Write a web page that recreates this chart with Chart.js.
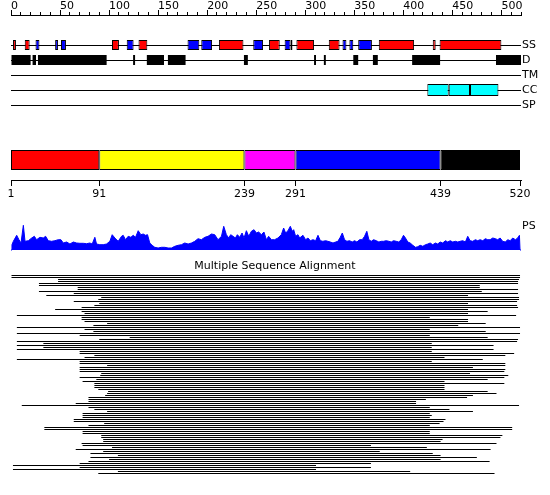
<!DOCTYPE html>
<html>
<head>
<meta charset="utf-8">
<script src="https://cdn.jsdelivr.net/npm/chart.js"></script>
<style>
html,body{margin:0;padding:0;background:#ffffff;}
canvas{display:block;}
</style>
</head>
<body>
<canvas id="c" width="550" height="495" style="width:550px;height:495px"></canvas>
<script>
// ---------------- DATA ----------------
const seqLength = 520;
const topTickStep = 10;
const topLabelStep = 50;

const trackNames = ['SS', 'D', 'TM', 'CC', 'SP'];
const profileName = 'PS';
const msaTitle = 'Multiple Sequence Alignment';

// secondary structure: helices (red) and strands (blue), residue ranges
const helixRanges = [[2,5],[14,19],[103,110],[130,139],[212,237],[263,274],[285,287],[291,309],[324,335],[375,411],[430,433],[437,500]];
const strandRanges = [[25,29],[45,48],[51,56],[118,125],[180,192],[194,205],[247,257],[279,285],[338,342],[345,349],[354,368]];
// disorder
const disorderRanges = [[0,20],[22,25.5],[27.5,97.5],[124.5,126.5],[138.5,156],[160,178],[237.5,241.5],[309,311],[319,321],[349,354],[369,374],[409,437.5],[494.5,520]];
// coiled coil
const coiledCoilRanges = [[424.5,446.3],[446.3,468],[468,497]];
// domain boundaries (also the tick labels of the domain ruler)
const domainBounds = [1, 91, 239, 291, 439, 520];

// PS profile
const psPos = [0,1,2.4,5.8,8.1,10.2,12.6,14.3,17.7,21.1,23.8,26.1,29.5,32.9,35.3,38,41.4,44.8,48.2,50.9,53.3,56.7,60.1,63.5,66.9,70.3,73.7,77.1,80.4,82.8,85.5,87.2,90.6,94,97.4,100.8,103.2,105.9,109.3,112.7,114.4,116.8,119.5,122.2,124.6,127,129.7,132.4,134.8,137.1,139.2,141.5,143.9,146.6,150,153.4,156.8,160.2,163.6,167,170.4,173.8,177.2,180.6,184,187.4,190.7,194.1,197.6,200.9,204.4,207.7,211.1,214.6,216.9,219.6,222,224,226.4,228.8,230.8,233.2,235.6,237.6,240,242.4,245.1,247.8,250.2,252.5,255.3,257.9,260.4,262.7,265.5,268.8,272.2,275.6,278,280,282.4,284.8,286.8,288.2,290.2,292.6,294.3,297.7,300.4,302.8,305.2,307.9,310.6,313,315.4,318,320.8,323.1,325.6,328.3,331,333.3,335.7,337.8,340.1,342.5,345.2,347.9,350.3,352.7,355.4,358.1,360.5,362.8,364.9,367.3,369.7,372.4,375.1,377.5,379.8,382.6,385.3,387.7,390,392.8,395.4,397.9,400.2,402.2,404.6,407,409.7,412.4,414.8,417.2,419.9,422.6,425,427.4,430,432.8,435.1,437.6,440.2,443,445.3,447.8,450.4,453.2,455.5,457.9,460.6,463.3,465.7,468.1,470.8,473.5,475.9,478.3,481,483.7,486.1,488.5,491.2,493.9,496.2,498.7,501.3,504.1,506.4,508.9,511.6,514.3,516.6,518.4,519,520];
const psVal = [0,5.3,8.7,14.7,10.3,7,24.7,8.7,9.3,12,13.7,10.3,12.7,12,13.7,9.3,8.7,9.3,10.3,10.3,7,8,6,8,7,6.7,6.7,6.3,7,6,12.7,6,5.3,5.3,6,8.7,15.3,12,8.7,13.7,14.7,10.3,13.7,12.7,14.7,12.7,19.3,15.3,16,14.7,15.3,7,4.7,2.7,2,2.7,2.7,2,2,3.7,4.7,5.3,7,6,7,8.7,11.3,10.3,12.7,13.7,16,15.3,10.3,13.7,23.7,15.3,12,15.3,13.7,12,15.3,12.7,17,12,19.3,13.7,18.7,20.3,17,18,15.3,18,10.3,13.7,10.3,10.3,12,15.3,22,17,19.3,23.7,18.7,20.3,13.7,15.3,12,14.7,10.3,12,9.3,10.3,9.3,14.7,9.3,8.7,9.3,8.7,8,7,8,8.7,12.7,17,10.3,8.7,9.3,8,9.3,8,10.3,10.3,13.7,18.7,10.3,8.7,10.3,9.3,8,8.7,8.7,9.3,8.7,8,9.3,8.7,8,10.3,14.7,12,8,7,4.7,2.7,3.3,4.7,3.7,5.3,6,7,5.3,7,6,8,7,9.3,8,9.3,8,8.7,8,8.7,9.3,8,13.7,9.3,8.7,10.3,9.3,10.3,9.3,11.3,10.3,10.3,12,11.3,10.3,12,8.7,8,10.3,9.3,12,10.3,12,14.7,0,0];

// multiple sequence alignment: first and last aligned residue of each sequence
const msaStart = [0,0,48,48,28.5,28.5,68,68,28.5,64,36,92,89,64,90,85,72,45,72,75,6,72,72,75,98,84,6,75,84,6,70,121,90,6,33,6,33,6,70,70,85,75,6,70,70,98,70,70,
  70,92,91,70,87,73,85,85,85,89,99,98,96,79,79,79,66,11,79,85,98,73,73,73,64,64,95,79,34,34,73,73,92,92,94,94,72,73,103,66,94,81,109,81,100,79,70,2,70,2,109,89];
const msaEnd = [519,519,518,517,517,478,478,517,480,517,466,518,518,516,466,516,517,466,486,466,515,427,466,466,484,456,519,427,484,519,427,486,517,516,429,492,429,492,429,513,504,442,481,429,504,504,471,504,
  503,468,507,503,486,442,503,442,442,442,486,495,471,465,423,413,413,518,427,447,471,427,429,427,443,441,437,427,511,511,427,427,501,499,440,438,495,367,424,489,376,430,438,475,438,488,367,311,367,311,407,493];

// ---------------- LAYOUT / STYLE ----------------
const TRACK_Y = {SS: 45, D: 60, TM: 75, CC: 90, SP: 105, PS: 226};
const DOMAIN_Y = 160;
const RULER_Y = 180;
const TITLE_Y = 258;
const TITLE_POS = 0.5176;
const domainColors = ['#ff0000', '#ffff00', '#ff00ff', '#0000ff', '#000000'];
const FONT_FAMILY = "'DejaVu Sans', 'Liberation Sans', sans-serif";

Chart.defaults.font.family = FONT_FAMILY;
Chart.defaults.font.size = 11;
Chart.defaults.font.lineHeight = 1.2;
Chart.defaults.color = '#000000';

const noPad = s => { s.paddingTop = 0; s.paddingBottom = 0; s.paddingLeft = 0; s.paddingRight = 0; };

const domainData = [];
for (let i = 0; i < domainBounds.length - 1; i++) {
  domainData.push({x: [domainBounds[i], domainBounds[i + 1]], y: DOMAIN_Y});
}
const labelTracks = trackNames.concat([profileName]);

// floating horizontal bars, each centred on its own row value
const rowBar = {type: 'bar', indexAxis: 'y', grouped: false, barPercentage: 1, categoryPercentage: 1,
  inflateAmount: 0, borderSkipped: false};

// major ticks of the top ruler are a bit longer
const majorTickPlugin = {
  id: 'majorTicks',
  afterDraw(chart) {
    const s = chart.scales.x;
    const ctx = chart.ctx;
    ctx.save();
    ctx.strokeStyle = '#000';
    ctx.lineWidth = 1;
    s.ticks.forEach(t => {
      if (t.value % topLabelStep === 0) {
        const px = Math.round(s.getPixelForValue(t.value) - 0.5) + 0.5;
        ctx.beginPath();
        ctx.moveTo(px, s.bottom - 5);
        ctx.lineTo(px, s.bottom - 2);
        ctx.stroke();
      }
    });
    ctx.restore();
  }
};

new Chart(document.getElementById('c'), {
  type: 'bar',
  data: {
    datasets: [
      Object.assign({}, rowBar, {xAxisID: 'x', yAxisID: 'y', data: helixRanges.map(r => ({x: r, y: TRACK_Y.SS})),
        backgroundColor: '#ff0000', borderColor: '#000', borderWidth: 1, maxBarThickness: 10}),
      Object.assign({}, rowBar, {xAxisID: 'x', yAxisID: 'y', data: strandRanges.map(r => ({x: r, y: TRACK_Y.SS})),
        backgroundColor: '#0000ff', borderColor: '#000', borderWidth: 1, maxBarThickness: 10}),
      Object.assign({}, rowBar, {xAxisID: 'x', yAxisID: 'y', data: disorderRanges.map(r => ({x: r, y: TRACK_Y.D})),
        backgroundColor: '#000000', borderWidth: 0, maxBarThickness: 10}),
      Object.assign({}, rowBar, {xAxisID: 'x', yAxisID: 'y', data: coiledCoilRanges.map(r => ({x: r, y: TRACK_Y.CC})),
        backgroundColor: '#00ffff', borderColor: '#000', borderWidth: 1, maxBarThickness: 12}),
      Object.assign({}, rowBar, {xAxisID: 'xd', yAxisID: 'ydom', data: domainData,
        backgroundColor: domainColors, borderColor: '#000', borderWidth: 1, maxBarThickness: 20}),
      {type: 'line', xAxisID: 'x', yAxisID: 'ypsv',
        data: psPos.map((p, i) => ({x: p, y: psVal[i]})),
        borderColor: '#0000ff', backgroundColor: '#0000ff', borderWidth: 1,
        pointRadius: 0, tension: 0, fill: 'origin'},
      Object.assign({}, rowBar, {xAxisID: 'x', yAxisID: 'ymsa',
        data: msaStart.map((s, i) => ({x: [s, msaEnd[i]], y: i})),
        backgroundColor: '#000000', borderWidth: 0, maxBarThickness: 1})
    ]
  },
  options: {
    responsive: false,
    devicePixelRatio: 1,
    animation: false,
    layout: {padding: {left: 11, right: 0, top: 0, bottom: 0}},
    plugins: {legend: {display: false}, tooltip: {enabled: false}, title: {display: false}},
    scales: {
      x: {type: 'linear', axis: 'x', position: 'top', min: 0, max: seqLength, offset: false, stacked: false,
        ticks: {stepSize: topTickStep, autoSkip: false, maxRotation: 0, minRotation: 0, align: 'start', padding: -1,
          callback: v => (v % topLabelStep === 0 ? String(v) : '')},
        grid: {offset: false, drawOnChartArea: false, drawTicks: true, tickLength: 3, color: '#000', tickColor: '#000'},
        border: {display: true, color: '#000'},
        afterFit: s => { s.height = 15; noPad(s); }},
      xd: {type: 'linear', axis: 'x', position: {y: RULER_Y}, min: 1, max: seqLength + 1, offset: false, stacked: false,
        afterBuildTicks: s => { s.ticks = domainBounds.map(v => ({value: v})); },
        ticks: {autoSkip: false, maxRotation: 0, minRotation: 0, padding: 3},
        grid: {offset: false, drawOnChartArea: false, drawTicks: true, tickLength: 5, color: '#000', tickColor: '#000'},
        border: {display: true, color: '#000'},
        afterFit: s => noPad(s)},
      xt: {type: 'linear', axis: 'x', position: {y: TITLE_Y}, min: 0, max: 1, offset: false,
        afterBuildTicks: s => { s.ticks = [{value: TITLE_POS}]; },
        ticks: {autoSkip: false, maxRotation: 0, minRotation: 0, padding: 2, callback: () => msaTitle},
        grid: {display: false, drawTicks: false},
        border: {display: false},
        afterFit: s => noPad(s)},
      y: {type: 'linear', axis: 'y', min: 15, max: 495, reverse: true, display: false, offset: false, grid: {offset: false}},
      ydom: {type: 'linear', axis: 'y', min: 15, max: 495, reverse: true, display: false, offset: false, grid: {offset: false}},
      yr: {type: 'linear', axis: 'y', position: 'right', min: 15, max: 495, reverse: true, offset: false,
        afterBuildTicks: s => { s.ticks = labelTracks.map(n => ({value: TRACK_Y[n]})); },
        ticks: {autoSkip: false, padding: 1,
          callback: v => labelTracks.find(n => TRACK_Y[n] === v) || ''},
        grid: {drawTicks: false, drawOnChartArea: true,
          color: c => (c.tick && c.tick.value === TRACK_Y.PS ? 'rgba(0,0,0,0)' : '#000')},
        border: {display: false},
        afterFit: s => { s.width = 29; noPad(s); }},
      ypsv: {type: 'linear', axis: 'y', min: -245, max: 235, display: false},
      ymsa: {type: 'linear', axis: 'y', min: -130.25, max: 109.75, reverse: true, display: false,
        offset: false, grid: {offset: false}}
    }
  },
  plugins: [majorTickPlugin]
});
</script>
</body>
</html>
